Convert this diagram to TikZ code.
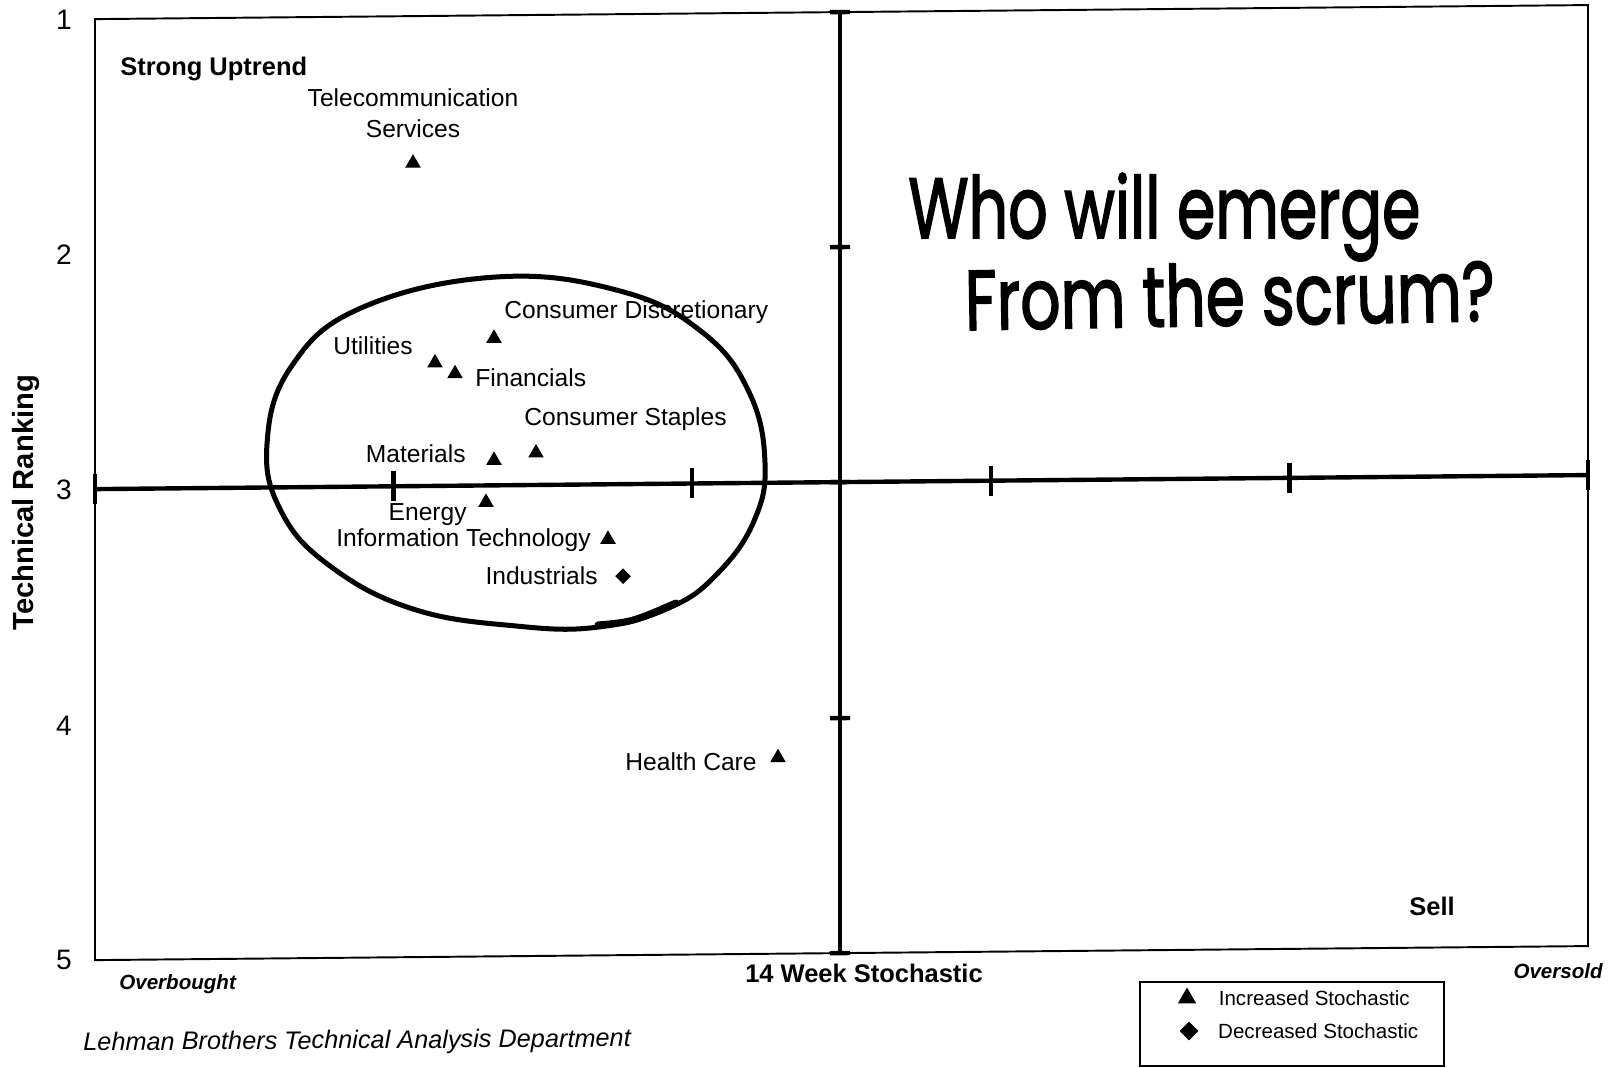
\documentclass[tikz,border=0pt]{standalone}
\usepackage{fontspec}
\setmainfont{Liberation Sans}
\newfontfamily\handfont[FakeBold=2.2]{Poppins}
\usetikzlibrary{positioning, shapes.geometric}

\begin{document}
\begin{tikzpicture}[x=0.02cm, y=-0.02cm,
    plotframe/.style={line width=1.1pt},
    axisline/.style={line width=2.5pt},
    incr/.style={regular polygon, regular polygon sides=3, fill=black, inner sep=0pt, minimum size=0.36cm},
    decr/.style={diamond, fill=black, inner sep=0pt, minimum size=0.32cm},
    lbl/.style={font=\fontsize{14}{17.6}\selectfont, inner sep=0pt},
    hdr/.style={font=\fontsize{14.5}{17}\selectfont\bfseries, inner sep=0pt},
    ranklbl/.style={font=\fontsize{16}{18}\selectfont, inner sep=0pt},
    note/.style={font=\fontsize{11.7}{14}\selectfont, inner sep=0pt}]

  \useasboundingbox (0,0) rectangle (1619,1068);

  \begin{scope}[yslant=0.0094]
    % frame and axes
    \draw[plotframe] (95,20) rectangle (1588,961);
    \draw[axisline] (95,490) -- (1588,490);
    \draw[axisline] (840,20) -- (840,961);
    \foreach \x in {95,393.6,692.2,990.8,1289.4,1588}
      \draw[axisline] (\x,475) -- (\x,505);
    \foreach \y in {20,255,490,726,961}
      \draw[axisline] (830,\y) -- (850,\y);

    \node[ranklbl] (r1) at (64,20)  {1};
    \node[ranklbl] (r2) at (64,255) {2};
    \node[ranklbl] (r3) at (64,490) {3};
    \node[ranklbl] (r4) at (64,726) {4};
    \node[ranklbl] (r5) at (64,961) {5};
    \node[font=\fontsize{16.6}{19}\selectfont\bfseries, inner sep=0pt, rotate=90] (yname) at (26,503) {Technical Ranking};

    \node[hdr, anchor=west] (uptrend) at (120,70) {Strong Uptrend};
    \node[hdr, anchor=west] (sell) at (1409,920) {Sell};
    \node[hdr] (xname) at (864,982) {14 Week Stochastic};
    \node[note, font=\fontsize{11.7}{14}\selectfont\bfseries\itshape, anchor=west] (overbought) at (119,985) {Overbought};
    \node[note, font=\fontsize{11.7}{14}\selectfont\bfseries\itshape, anchor=east] (oversold) at (1603,986) {Oversold};

    % sectors
    \node[incr] (telecom)  at (413,167) {};
    \node[incr] (consdisc) at (494,343) {};
    \node[incr] (util)     at (435,367) {};
    \node[incr] (fin)      at (455,378) {};
    \node[incr] (consstap) at (536,458) {};
    \node[incr] (mat)      at (494,465) {};
    \node[incr] (energy)   at (486,507) {};
    \node[incr] (infotech) at (608,545) {};
    \node[decr] (indus)    at (623,582) {};
    \node[incr] (health)   at (778,765) {};

    \node[lbl, align=center] (telecom_l) at (413,117) {Telecommunication\\Services};
    \node[lbl, anchor=west] (consdisc_l) at (504,317) {Consumer Discretionary};
    \node[lbl, anchor=east] (util_l)     at (413,350) {Utilities};
    \node[lbl, anchor=west] (fin_l)      at (475,382) {Financials};
    \node[lbl, anchor=west] (consstap_l) at (524,424) {Consumer Staples};
    \node[lbl, anchor=east] (mat_l)      at (466,458) {Materials};
    \node[lbl, anchor=east] (energy_l)   at (467,519) {Energy};
    \node[lbl, anchor=east] (infotech_l) at (591,546) {Information Technology};
    \node[lbl, anchor=east] (indus_l)    at (598,581) {Industrials};
    \node[lbl, anchor=east] (health_l)   at (757,769) {Health Care};
  \end{scope}

  % the scrum
  \draw[line width=2.85pt, line join=round] plot[smooth cycle, tension=0.7] coordinates {(496,277) (620,291) (702,332) (749,392) (765,463) (754,521) (718,573) (671,607) (599,627) (516,626) (413,609) (330,566) (281,511) (267,444) (291,367) (361,308)};
  \draw[line width=4pt, line cap=round] (598,625) .. controls (632,622) .. (676,603);

  \node[anchor=base west, inner sep=0pt] (hand1) at (908,238) {\resizebox{10.24cm}{1.3cm}{\handfont Who will emerge}};
  \node[anchor=base west, inner sep=0pt, rotate=1] (hand2) at (965,330) {\resizebox{10.6cm}{1.25cm}{\handfont From the scrum?}};

  % legend
  \draw[plotframe] (1140,982) rectangle (1444,1066);
  \node[incr, minimum size=0.42cm] (leg_up) at (1187,998) {};
  \node[decr, minimum size=0.38cm] (leg_down) at (1189,1031) {};
  \node[note, right=0.5cm of leg_up] (leg_up_l) {Increased Stochastic};
  \node[note, right=0.38cm of leg_down] (leg_down_l) {Decreased Stochastic};

  \node[font=\fontsize{14.4}{17}\selectfont\itshape, inner sep=0pt, anchor=west, rotate=0.4] (source) at (83,1044) {Lehman Brothers Technical Analysis Department};
\end{tikzpicture}
\end{document}
